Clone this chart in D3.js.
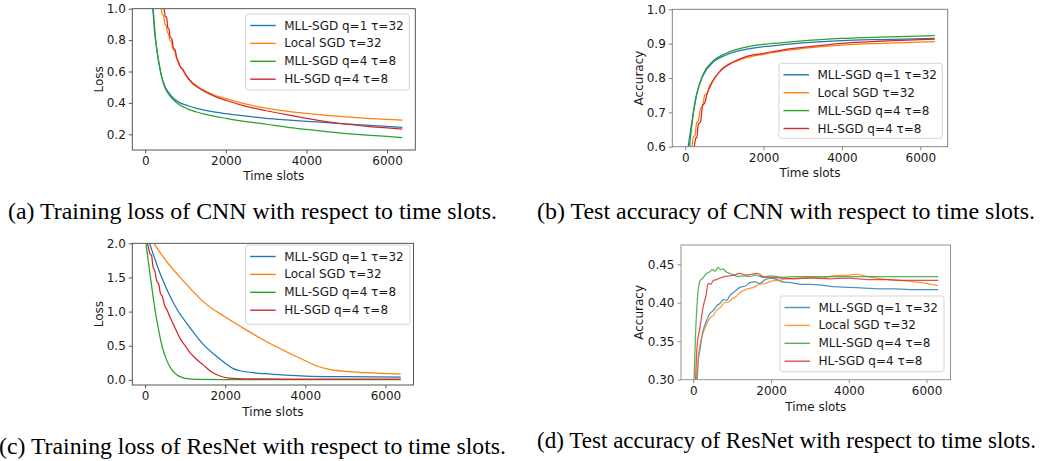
<!DOCTYPE html>
<html>
<head>
<meta charset="utf-8">
<script src="https://cdn.jsdelivr.net/npm/d3@7"></script>
<style>
  html, body { margin: 0; padding: 0; background: #fff; }
  svg { display: block; }
</style>
</head>
<body>
<svg id="chart" width="1047" height="461"></svg>
<script>
// ---- data ----
var seriesNames = ["MLL-SGD q=1 \u03c4=32", "Local SGD \u03c4=32", "MLL-SGD q=4 \u03c4=8", "HL-SGD q=4 \u03c4=8"];
var seriesColors = ["#1f77b4", "#ff7f0e", "#2ca02c", "#d62728"];
var xTicks = [0, 2000, 4000, 6000];

// (a) training loss, CNN
var cnnLossMll32 = [[189,1.0],[230,0.86],[288,0.74],[350,0.64],[411,0.566],[500,0.5],[575,0.468],[700,0.43],[863,0.4],[1066,0.382],[1274,0.365],[1500,0.352],[2000,0.331],[2500,0.315],[3000,0.302],[3500,0.292],[4000,0.283],[4500,0.275],[5000,0.266],[5500,0.258],[6000,0.25],[6380,0.244]];
var cnnLossLocal32 = [[400,1.0],[430,0.96],[460,0.955],[490,0.9],[520,0.895],[550,0.85],[580,0.84],[610,0.8],[650,0.79],[690,0.74],[730,0.73],[770,0.69],[818,0.66],[870,0.63],[930,0.615],[1000,0.585],[1150,0.535],[1300,0.505],[1480,0.477],[1700,0.452],[2000,0.427],[2500,0.392],[3000,0.366],[3500,0.347],[4000,0.333],[4500,0.321],[5000,0.311],[5500,0.302],[6000,0.295],[6380,0.29]];
var cnnLossMll8 = [[200,1.0],[240,0.86],[290,0.74],[350,0.64],[411,0.56],[500,0.49],[575,0.458],[700,0.42],[863,0.386],[1066,0.36],[1274,0.342],[1500,0.327],[2000,0.302],[2500,0.281],[3000,0.264],[3500,0.246],[4000,0.231],[4500,0.217],[5000,0.205],[5500,0.195],[6000,0.186],[6380,0.179]];
var cnnLossHl8 = [[470,1.0],[500,0.95],[530,0.945],[560,0.88],[590,0.87],[620,0.82],[660,0.81],[700,0.75],[740,0.74],[780,0.69],[818,0.665],[870,0.63],[930,0.612],[1000,0.58],[1150,0.53],[1300,0.5],[1480,0.472],[1700,0.445],[2000,0.417],[2500,0.378],[3000,0.35],[3500,0.325],[4000,0.302],[4500,0.281],[5000,0.264],[5500,0.251],[6000,0.241],[6380,0.233]];

// (b) test accuracy, CNN
var cnnAccMll32 = [[75,0.6],[146,0.655],[274,0.745],[444,0.805],[700,0.845],[1044,0.867],[1341,0.878],[2000,0.891],[2500,0.897],[3000,0.902],[4000,0.909],[5000,0.912],[6370,0.915]];
var cnnAccLocal32 = [[172,0.6],[210,0.63],[250,0.632],[290,0.67],[333,0.675],[390,0.71],[444,0.72],[500,0.75],[560,0.755],[615,0.775],[700,0.792],[872,0.818],[1214,0.845],[1500,0.857],[2000,0.869],[2500,0.879],[3000,0.886],[4000,0.896],[5000,0.901],[6370,0.906]];
var cnnAccMll8 = [[110,0.6],[160,0.655],[280,0.745],[444,0.808],[700,0.848],[1044,0.872],[1341,0.884],[2000,0.898],[2500,0.903],[3000,0.908],[4000,0.915],[5000,0.919],[6370,0.923]];
var cnnAccHl8 = [[231,0.6],[270,0.625],[300,0.628],[333,0.665],[390,0.672],[444,0.72],[500,0.728],[560,0.755],[615,0.77],[700,0.79],[872,0.818],[1214,0.846],[1500,0.86],[2000,0.872],[2500,0.882],[3000,0.889],[4000,0.901],[5000,0.907],[6370,0.913]];

// (c) training loss, ResNet
var resLossMll32 = [[110,2.0],[250,1.76],[400,1.52],[600,1.25],[800,1.03],[1100,0.78],[1450,0.52],[1750,0.36],[2000,0.245],[2200,0.165],[2400,0.13],[3000,0.09],[3500,0.07],[4000,0.056],[5000,0.046],[6380,0.04]];
var resLossLocal32 = [[220,2.0],[500,1.76],[1000,1.42],[1500,1.12],[2000,0.92],[2500,0.74],[3000,0.57],[3500,0.42],[4000,0.28],[4300,0.2],[4600,0.155],[5000,0.125],[5500,0.105],[6380,0.085]];
var resLossMll8 = [[20,2.0],[100,1.65],[180,1.3],[255,1.0],[340,0.72],[420,0.5],[530,0.3],[650,0.16],[780,0.08],[900,0.04],[1050,0.017],[1300,0.008],[2000,0.005],[6380,0.003]];
var resLossHl8 = [[60,2.0],[120,1.85],[160,1.82],[200,1.65],[240,1.6],[290,1.45],[340,1.4],[380,1.27],[430,1.22],[480,1.1],[550,1.02],[620,0.92],[700,0.82],[780,0.72],[880,0.6],[1000,0.5],[1120,0.4],[1250,0.32],[1450,0.22],[1650,0.12],[1850,0.06],[2100,0.027],[2500,0.016],[3500,0.012],[6380,0.01]];

// (d) test accuracy, ResNet
var resAccMll32 = [[100,0.3],[140,0.33],[170,0.338],[210,0.352],[256,0.364],[330,0.375],[426,0.386],[520,0.39],[600,0.396],[682,0.399],[780,0.404],[860,0.403],[938,0.409],[1050,0.414],[1200,0.42],[1350,0.422],[1450,0.426],[1600,0.427],[1700,0.425],[1850,0.43],[2000,0.432],[2150,0.43],[2300,0.427],[2500,0.426],[2800,0.424],[3000,0.424],[3300,0.423],[3600,0.421],[4000,0.42],[4400,0.419],[4800,0.418],[5200,0.418],[5700,0.417],[6300,0.417]];
var resAccLocal32 = [[85,0.3],[130,0.33],[170,0.345],[250,0.36],[340,0.372],[430,0.38],[520,0.384],[600,0.39],[700,0.394],[800,0.4],[900,0.401],[1000,0.405],[1100,0.408],[1200,0.413],[1400,0.418],[1550,0.42],[1700,0.424],[1850,0.425],[2000,0.428],[2200,0.429],[2400,0.431],[2700,0.432],[3000,0.433],[3300,0.432],[3600,0.435],[4000,0.436],[4200,0.437],[4400,0.435],[4700,0.432],[5000,0.43],[5500,0.428],[6000,0.425],[6300,0.422]];
var resAccMll8 = [[20,0.3],[60,0.36],[100,0.4],[170,0.428],[260,0.433],[340,0.438],[420,0.44],[500,0.443],[570,0.441],[640,0.446],[700,0.443],[760,0.444],[850,0.44],[950,0.438],[1050,0.436],[1150,0.434],[1300,0.435],[1450,0.434],[1600,0.436],[1800,0.433],[2000,0.435],[2300,0.433],[2600,0.434],[3000,0.434],[3500,0.434],[4000,0.434],[5000,0.434],[6300,0.434]];
var resAccHl8 = [[60,0.3],[100,0.345],[170,0.367],[256,0.395],[330,0.41],[384,0.425],[450,0.424],[520,0.429],[600,0.43],[682,0.432],[800,0.434],[938,0.435],[1050,0.436],[1200,0.438],[1350,0.436],[1500,0.437],[1650,0.438],[1800,0.434],[2000,0.433],[2300,0.432],[2600,0.431],[3000,0.432],[3500,0.431],[4000,0.432],[4500,0.43],[5000,0.43],[5500,0.429],[6300,0.429]];

var yTicksCnnLoss = [0.2, 0.4, 0.6, 0.8, 1.0];
var yTicksCnnAcc = [0.6, 0.7, 0.8, 0.9, 1.0];
var yTicksResLoss = [0.0, 0.5, 1.0, 1.5, 2.0];
var yTicksResAcc = [0.30, 0.35, 0.40, 0.45];

var captions = [
  "(a) Training loss of CNN with respect to time slots.",
  "(b) Test accuracy of CNN with respect to time slots.",
  "(c) Training loss of ResNet with respect to time slots.",
  "(d) Test accuracy of ResNet with respect to time slots."
];

// ---- layout ----
var panels = [
  { frame: [132.3, 8.7, 415.3, 150], xDomain: [-320, 6700], yDomain: [0.1, 1.0],
    yTicks: yTicksCnnLoss, yFmt: ".1f", ylabel: "Loss", spine: "#444", alpha: 1,
    series: [cnnLossMll32, cnnLossLocal32, cnnLossMll8, cnnLossHl8],
    legend: [245.7, 14, 163.6, 76], xlabelY: 175.5,
    caption: captions[0], capX: 8, capW: 489, capY: 219 },
  { frame: [672.3, 9.3, 947.7, 146.7], xDomain: [-330, 6700], yDomain: [0.6, 1.0],
    yTicks: yTicksCnnAcc, yFmt: ".1f", ylabel: "Accuracy", spine: "#777", alpha: 1,
    series: [cnnAccMll32, cnnAccLocal32, cnnAccMll8, cnnAccHl8],
    legend: [779, 63.3, 163.3, 75], xlabelY: 172.5,
    caption: captions[1], capX: 537, capW: 498, capY: 219 },
  { frame: [132.3, 243.3, 413.5, 385], xDomain: [-320, 6700], yDomain: [-0.075, 2.0],
    yTicks: yTicksResLoss, yFmt: ".1f", ylabel: "Loss", spine: "#444", alpha: 1,
    series: [resLossMll32, resLossLocal32, resLossMll8, resLossHl8],
    legend: [245.7, 245, 164.3, 79.3], xlabelY: 412,
    caption: captions[2], capX: -1, capW: 507, capY: 454 },
  { frame: [681, 245, 950.5, 379.7], xDomain: [-315, 6615], yDomain: [0.30, 0.475],
    yTicks: yTicksResAcc, yFmt: ".2f", ylabel: "Accuracy", spine: "#888", alpha: 0.8,
    series: [resAccMll32, resAccLocal32, resAccMll8, resAccHl8],
    legend: [780, 296, 164, 75.7], xlabelY: 406.5,
    caption: captions[3], capX: 537, capW: 499, capY: 448 }
];

var svg = d3.select("#chart");
var sansFont = "DejaVu Sans, sans-serif";

panels.forEach(function(p, pi) {
  var l = p.frame[0], t = p.frame[1], r = p.frame[2], b = p.frame[3];
  var x = d3.scaleLinear().domain(p.xDomain).range([l, r]);
  var y = d3.scaleLinear().domain(p.yDomain).range([b, t]);
  var g = svg.append("g");

  var clipId = "clip" + pi;
  g.append("clipPath").attr("id", clipId)
    .append("rect").attr("x", l).attr("y", t).attr("width", r - l).attr("height", b - t);

  var line = d3.line()
    .x(function(d) { return x(d[0]); })
    .y(function(d) { return y(d[1]); })
    .curve(d3.curveMonotoneX);

  var lines = g.append("g").attr("clip-path", "url(#" + clipId + ")");
  p.series.forEach(function(s, i) {
    lines.append("path")
      .datum(s)
      .attr("d", line)
      .attr("fill", "none")
      .attr("stroke", seriesColors[i])
      .attr("stroke-opacity", p.alpha)
      .attr("stroke-width", 1.25);
  });

  // axes
  var xAxis = g.append("g")
    .attr("transform", "translate(0," + b + ")")
    .call(d3.axisBottom(x).tickValues(xTicks).tickSize(3.5).tickPadding(3).tickFormat(d3.format("d")));
  var yAxis = g.append("g")
    .attr("transform", "translate(" + l + ",0)")
    .call(d3.axisLeft(y).tickValues(p.yTicks).tickSize(3.5).tickPadding(3).tickFormat(d3.format(p.yFmt)));
  [xAxis, yAxis].forEach(function(a) {
    a.select(".domain").remove();
    a.selectAll("line").attr("stroke", p.spine).attr("stroke-width", 0.9);
    a.selectAll("text").attr("fill", "#1a1a1a").style("font-family", sansFont).style("font-size", "12px");
  });

  g.append("rect")
    .attr("x", l).attr("y", t).attr("width", r - l).attr("height", b - t)
    .attr("fill", "none").attr("stroke", p.spine).attr("stroke-width", 0.9);

  // axis labels
  g.append("text")
    .attr("x", (l + r) / 2).attr("y", p.xlabelY)
    .attr("text-anchor", "middle").attr("dominant-baseline", "central")
    .style("font-family", sansFont).style("font-size", "12px").attr("fill", "#1a1a1a")
    .text("Time slots");
  g.append("text")
    .attr("transform", "translate(" + (pi % 2 === 0 ? 99.3 : 639.3) + "," + ((t + b) / 2) + ") rotate(-90)")
    .attr("text-anchor", "middle").attr("dominant-baseline", "central")
    .style("font-family", sansFont).style("font-size", "12px").attr("fill", "#1a1a1a")
    .text(p.ylabel);

  // legend
  var lg = p.legend;
  var leg = g.append("g");
  leg.append("rect")
    .attr("x", lg[0]).attr("y", lg[1]).attr("width", lg[2]).attr("height", lg[3])
    .attr("rx", 2.5).attr("fill", "#fff").attr("fill-opacity", 0.85)
    .attr("stroke", "#d0d0d0").attr("stroke-width", 0.9);
  seriesNames.forEach(function(name, i) {
    var ry = lg[1] + 11.5 + i * 17.9;
    leg.append("line")
      .attr("x1", lg[0] + 4.5).attr("x2", lg[0] + 30)
      .attr("y1", ry).attr("y2", ry)
      .attr("stroke", seriesColors[i]).attr("stroke-opacity", p.alpha).attr("stroke-width", 1.4);
    leg.append("text")
      .attr("x", lg[0] + 38.5).attr("y", ry)
      .attr("dominant-baseline", "central")
      .style("font-family", sansFont).style("font-size", "12px").attr("fill", "#1a1a1a")
      .text(name);
  });

  // caption
  svg.append("text")
    .attr("x", p.capX).attr("y", p.capY)
    .attr("textLength", p.capW).attr("lengthAdjust", "spacingAndGlyphs")
    .style("font-family", "Liberation Serif, Times New Roman, serif").style("font-size", "23px")
    .attr("fill", "#000")
    .text(p.caption);
});
</script>
</body>
</html>
